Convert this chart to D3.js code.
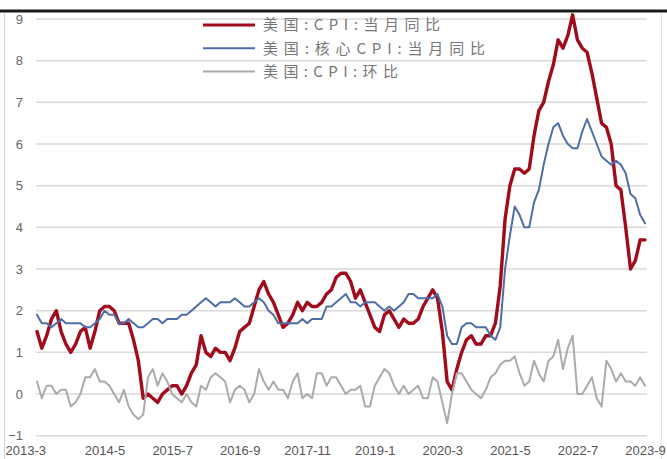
<!DOCTYPE html>
<html><head><meta charset="utf-8">
<script src="https://cdn.jsdelivr.net/npm/d3@7"></script>
<style>body{margin:0;background:#fff}svg{display:block}</style>
</head><body><svg id="c" width="667" height="459"></svg>
<script>
// categories: monthly, 2013-3 .. 2023-9
const startYear = 2013, startMonth = 3, monthCount = 127;
const months = [];
for (let i = 0; i < monthCount; i++) {
  const m = startMonth - 1 + i;
  months.push(`${startYear + Math.floor(m / 12)}-${(m % 12) + 1}`);
}
const seriesNames = ["美国:CPI:当月同比", "美国:核心CPI:当月同比", "美国:CPI:环比"];
const cpiYoY = [
  1.5,1.1,1.4,1.8,2.0,1.5,1.2,1.0,1.2,1.5,
  1.6,1.1,1.5,2.0,2.1,2.1,2.0,1.7,1.7,1.7,1.3,0.8,
  -0.1,0.0,-0.1,-0.2,0.0,0.1,0.2,0.2,0.0,0.2,0.5,0.7,
  1.4,1.0,0.9,1.1,1.0,1.0,0.8,1.1,1.5,1.6,1.7,2.1,
  2.5,2.7,2.4,2.2,1.9,1.6,1.7,1.9,2.2,2.0,2.2,2.1,
  2.1,2.2,2.4,2.5,2.8,2.9,2.9,2.7,2.3,2.5,2.2,1.9,
  1.6,1.5,1.9,2.0,1.8,1.6,1.8,1.7,1.7,1.8,2.1,2.3,
  2.5,2.3,1.5,0.3,0.1,0.6,1.0,1.3,1.4,1.2,1.2,1.4,
  1.4,1.7,2.6,4.2,5.0,5.4,5.4,5.3,5.4,6.2,6.8,7.0,
  7.5,7.9,8.5,8.3,8.6,9.1,8.5,8.3,8.2,7.7,7.1,6.5,
  6.4,6.0,5.0,4.9,4.0,3.0,3.2,3.7,3.7
];
const coreYoY = [
  1.9,1.7,1.7,1.6,1.7,1.8,1.7,1.7,1.7,1.7,
  1.6,1.6,1.7,1.8,2.0,1.9,1.9,1.7,1.7,1.8,1.7,1.6,
  1.6,1.7,1.8,1.8,1.7,1.8,1.8,1.8,1.9,1.9,2.0,2.1,
  2.2,2.3,2.2,2.1,2.2,2.2,2.2,2.3,2.2,2.1,2.1,2.2,
  2.3,2.2,2.0,1.9,1.7,1.7,1.7,1.7,1.7,1.8,1.7,1.8,
  1.8,1.8,2.1,2.1,2.2,2.3,2.4,2.2,2.2,2.1,2.2,2.2,
  2.2,2.1,2.0,2.1,2.0,2.1,2.2,2.4,2.4,2.3,2.3,2.3,
  2.3,2.4,2.1,1.4,1.2,1.2,1.6,1.7,1.7,1.6,1.6,1.6,
  1.4,1.3,1.6,3.0,3.8,4.5,4.3,4.0,4.0,4.6,4.9,5.5,
  6.0,6.4,6.5,6.2,6.0,5.9,5.9,6.3,6.6,6.3,6.0,5.7,
  5.6,5.5,5.6,5.5,5.3,4.8,4.7,4.3,4.1
];
const cpiMoM = [
  0.3,-0.1,0.2,0.2,0.0,0.1,0.1,-0.3,-0.2,0.0,
  0.4,0.4,0.6,0.3,0.3,0.2,0.0,-0.2,0.1,-0.3,-0.5,-0.6,
  -0.5,0.4,0.6,0.2,0.5,0.3,0.0,-0.1,-0.2,0.0,-0.2,-0.3,
  0.2,0.1,0.4,0.5,0.4,0.3,-0.2,0.1,0.2,0.1,-0.2,0.0,
  0.6,0.3,0.1,0.3,0.1,0.1,-0.1,0.3,0.5,-0.1,0.0,-0.1,
  0.5,0.5,0.2,0.4,0.4,0.2,0.0,0.1,0.1,0.2,-0.3,-0.3,
  0.2,0.4,0.6,0.5,0.2,0.0,0.2,0.0,0.1,0.2,-0.1,-0.1,
  0.4,0.3,-0.2,-0.7,0.0,0.5,0.5,0.3,0.1,0.0,-0.1,0.1,
  0.4,0.5,0.7,0.8,0.8,0.9,0.5,0.2,0.3,0.8,0.5,0.3,
  0.8,0.9,1.3,0.6,1.1,1.4,0.0,0.0,0.2,0.4,-0.1,-0.3,
  0.8,0.6,0.3,0.5,0.3,0.3,0.2,0.4,0.2
];
const tickLabels = ["2013-3","2014-5","2015-7","2016-9","2017-11","2019-1","2020-3","2021-5","2022-7","2023-9"];
const yTicks = [-1,0,1,2,3,4,5,6,7,8,9];

const colors = ["#a00c1c", "#4d6ea6", "#ababab"];
const widths = [3.4, 2, 2];
const svg = d3.select("#c");

// frame pieces
svg.append("rect").attr("x",0).attr("y",0).attr("width",667).attr("height",459).attr("fill","#fff");
svg.append("line").attr("x1",0).attr("x2",667).attr("y1",11).attr("y2",11).attr("stroke","#1a1a1a").attr("stroke-width",3);
svg.append("line").attr("x1",4.5).attr("x2",4.5).attr("y1",13).attr("y2",459).attr("stroke","#d0d0d0").attr("stroke-width",1);
svg.append("line").attr("x1",661.5).attr("x2",661.5).attr("y1",13).attr("y2",459).attr("stroke","#e2e2e2").attr("stroke-width",1);

const x = d3.scalePoint().domain(months).range([37, 645]);
const y = d3.scaleLinear().domain([-1, 9]).range([435.7, 19]);

// gridlines
svg.append("g").selectAll("line").data(yTicks).join("line")
  .attr("x1", 36).attr("x2", 647)
  .attr("y1", d => y(d)).attr("y2", d => y(d))
  .attr("stroke", "#d9d9d9").attr("stroke-width", 1.5);

// y axis labels
const yAxis = d3.axisLeft(y).tickValues(yTicks).tickSize(0).tickPadding(0).tickFormat(d => d < 0 ? "\u2212" + Math.abs(d) : d);
const gy = svg.append("g").attr("transform", "translate(23,0)").call(yAxis);
gy.select(".domain").remove();
gy.selectAll("text").attr("font-family", "Liberation Sans, Arial, sans-serif").attr("font-size", 13).attr("fill", "#666");

// x axis labels
const xAxis = d3.axisBottom(x).tickValues(tickLabels).tickSize(0).tickPadding(0);
const gx = svg.append("g").attr("transform", "translate(0,446)").call(xAxis);
gx.select(".domain").remove();
gx.selectAll("text").attr("font-family", "Liberation Sans, Arial, sans-serif").attr("font-size", 13).attr("fill", "#555").attr("dy", "0.72em");
gx.selectAll(".tick").filter(d => d === tickLabels[0]).select("text").attr("text-anchor", "start").attr("x", 5 - x(tickLabels[0]));

// lines
const series = [cpiYoY, coreYoY, cpiMoM];
const line = d3.line().x((d, i) => x(months[i])).y(d => y(d));
series.forEach((s, k) => {
  svg.append("path").datum(s).attr("d", line)
    .attr("fill", "none").attr("stroke", colors[k]).attr("stroke-width", widths[k])
    .attr("stroke-linejoin", "round").attr("stroke-linecap", "round");
});

// legend
const legendW = [177, 222, 135];
const lg = svg.append("g");
seriesNames.forEach((n, k) => {
  const yy = 25 + k * 23.3;
  lg.append("line").attr("x1", 203).attr("x2", 255).attr("y1", yy).attr("y2", yy)
    .attr("stroke", colors[k]).attr("stroke-width", k === 0 ? 3 : 2);
  lg.append("text").attr("x", 263).attr("y", yy).attr("dy", "0.36em")
    .attr("font-family", "Noto Sans CJK SC, sans-serif").attr("font-size", 15)
    .attr("fill", "#777").attr("textLength", legendW[k]).attr("lengthAdjust", "spacing")
    .text(n);
});
</script>
</body></html>
